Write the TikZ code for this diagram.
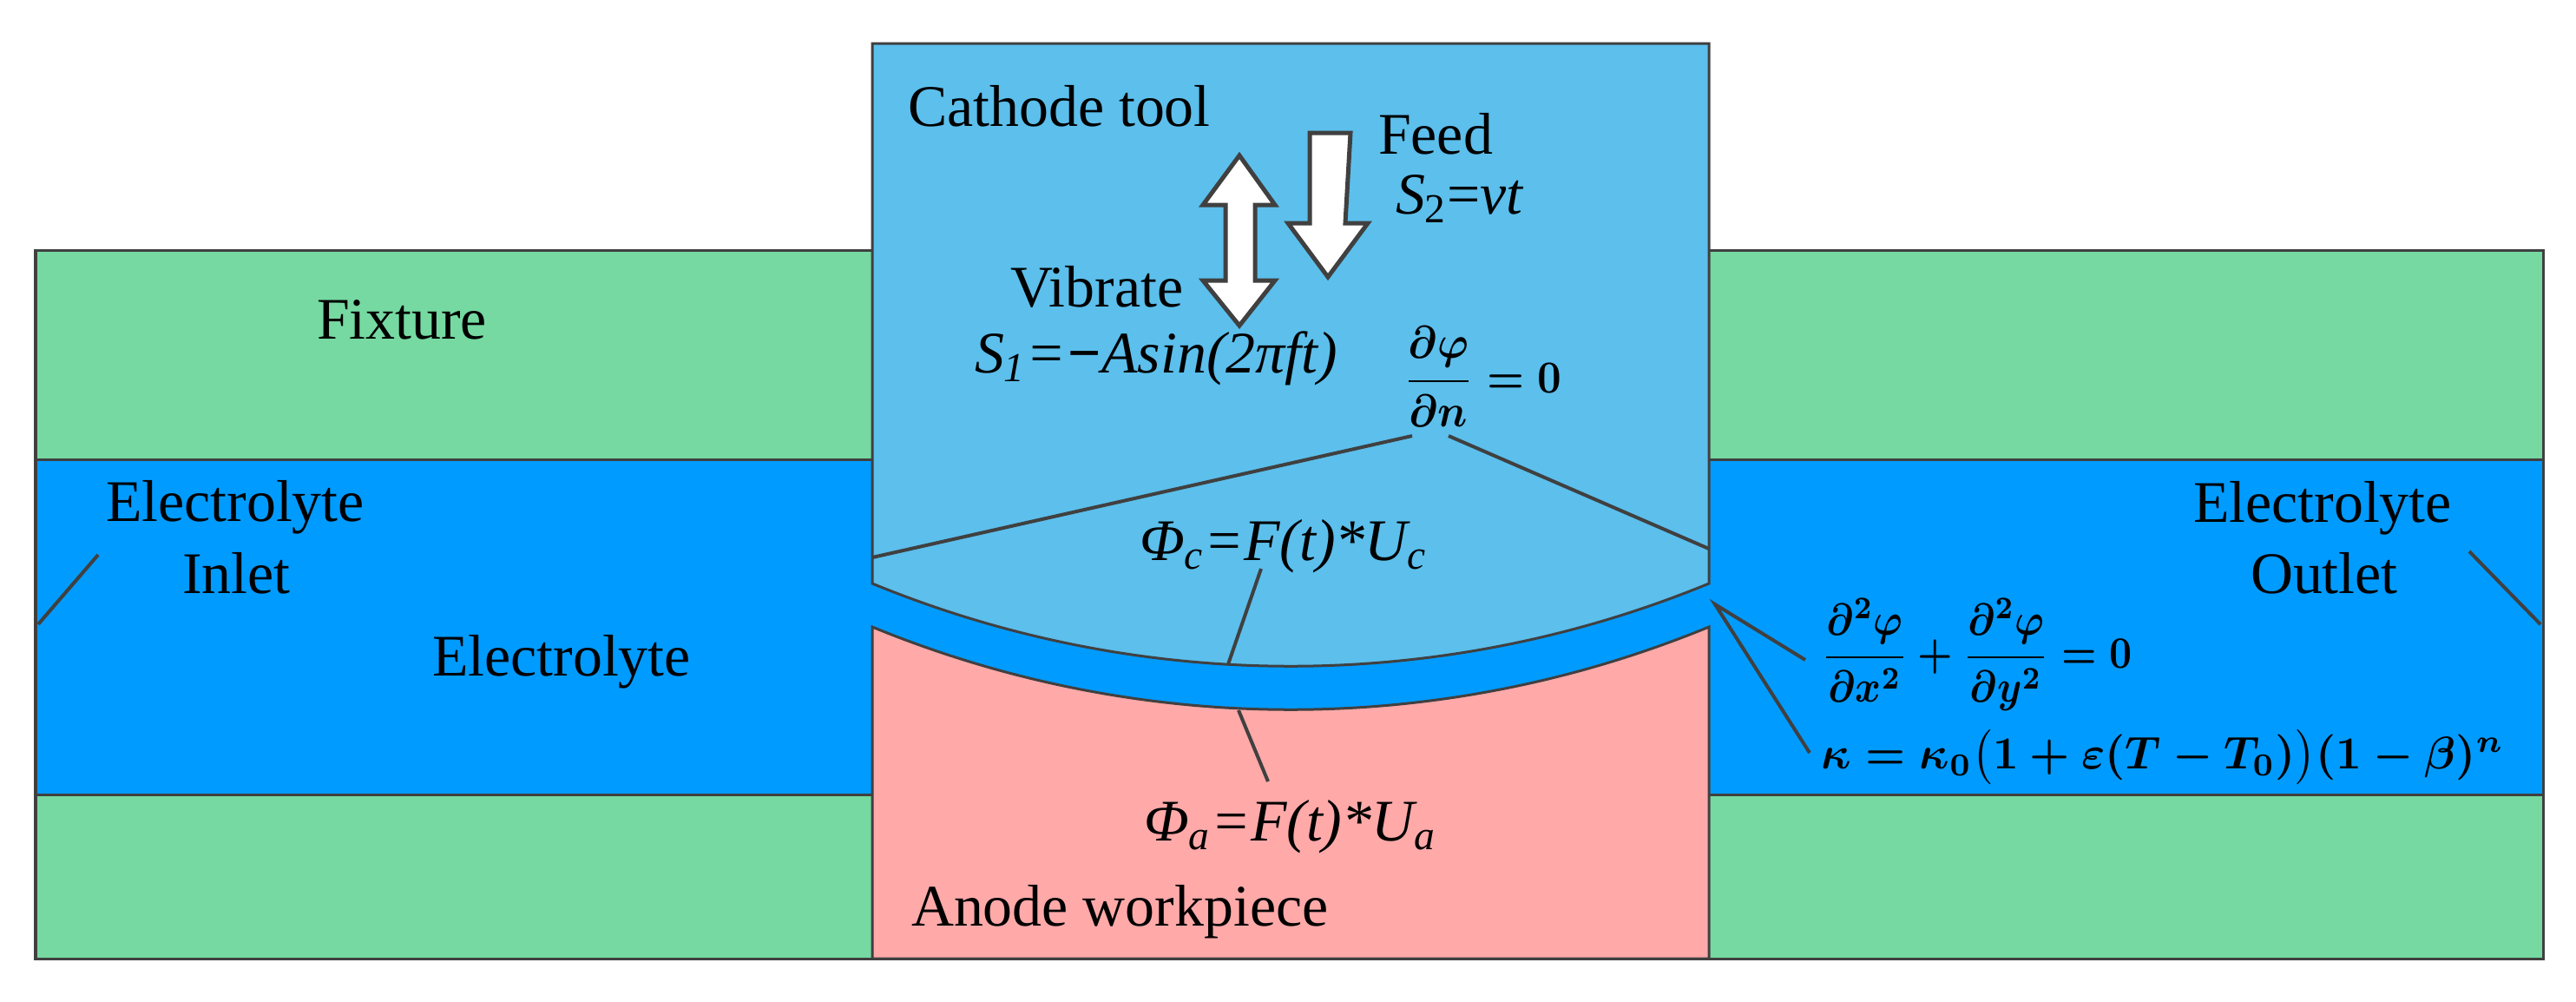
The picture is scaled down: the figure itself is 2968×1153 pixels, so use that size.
\documentclass[tikz,border=0pt]{standalone}
\usepackage{amsmath}
\usepackage{fontspec}
\setmainfont{Liberation Serif}
\definecolor{fixgreen}{HTML}{75D9A1}
\definecolor{elblue}{HTML}{009BFF}
\definecolor{cathblue}{HTML}{5CBFEC}
\definecolor{anodepink}{HTML}{FFA9A9}
\definecolor{edge}{HTML}{404040}
\tikzset{
  part/.style={draw=edge,line width=0.03cm,line join=miter},
  leader/.style={draw=edge,line width=0.04cm},
  lbl/.style={anchor=base west,inner sep=0pt,outer sep=0pt,font=\fontsize{19.3}{22}\selectfont},
  eqn/.style={anchor=west,inner sep=0pt,outer sep=0pt,font=\boldmath},
  motion/.style={draw=edge,fill=white,line width=0.05cm,line join=miter}
}
\begin{document}
\begin{tikzpicture}[x=0.01cm,y=-0.01cm]
\useasboundingbox (0,0) rectangle (2968,1153);
% regions
\fill[white] (0,0) rectangle (2968,1153);
\path[part,fill=fixgreen] (41,288) rectangle (2930,529);
\path[part,fill=fixgreen] (41,915) rectangle (2930,1104);
\path[part,fill=elblue] (41,529) rectangle (2930,915);
\path[part,fill=cathblue] (1005,50) -- (1969,50) -- (1969,672)
  .. controls (1660,799) and (1314,799) .. (1005,672) -- cycle;
\path[part,fill=anodepink] (1005,722) .. controls (1314,849) and (1660,849) .. (1969,722)
  -- (1969,1104) -- (1005,1104) -- cycle;
% motion arrows
\path[motion] (1428,179) -- (1469,236) -- (1446,236) -- (1446,323) -- (1469,323) -- (1428,375)
  -- (1386,323) -- (1412,323) -- (1412,236) -- (1386,236) -- cycle;
\path[motion] (1509,153) -- (1556,153) -- (1550,257) -- (1576,257) -- (1530,319) -- (1484,257) -- (1509,257) -- cycle;
% labels
\node[lbl] (cathode) at (1046,145) {Cathode tool};
\node[lbl] (feed) at (1588,177) {Feed};
\node[lbl] (s2) at (1608,246) {\textit{S}\textsubscript{2}=\textit{vt}};
\node[lbl] (vibrate) at (1164,353) {Vibrate};
\node[lbl] (s1) at (1123,429) {\textit{S\textsubscript{1}=\textbf{−}Asin(2πft)}};
\node[lbl] (fixture) at (365,390) {Fixture};
\node[lbl] (inleta) at (122,600) {Electrolyte};
\node[lbl] (inletb) at (210,683) {Inlet};
\node[lbl] (electrolyte) at (498,778) {Electrolyte};
\node[lbl] (outleta) at (2527,601) {Electrolyte};
\node[lbl] (outletb) at (2593,683) {Outlet};
\node[lbl] (phic) at (1313,645) {\textit{Φ\textsubscript{c}=F(t)*U\textsubscript{c}}};
\node[lbl] (phia) at (1318,968) {\textit{Φ\textsubscript{a}=F(t)*U\textsubscript{a}}};
\node[lbl] (anode) at (1050,1066) {Anode workpiece};
% equations
\node[eqn,xscale=1.37,yscale=1.5] (neumann) at (1617,434) {$\dfrac{\partial\varphi}{\partial n}=0$};
\node[eqn,xscale=1.29,yscale=1.47] (laplace) at (2099,754) {$\dfrac{\partial^2\varphi}{\partial x^2}+\dfrac{\partial^2\varphi}{\partial y^2}=0$};
\node[eqn,xscale=1.47,yscale=1.5] (kappa) at (2098,872) {$\kappa=\kappa_0\bigl(1+\varepsilon(T-T_0)\bigr)(1-\beta)^n$};
% leader end points
\coordinate (nl) at (1627,502);
\coordinate (nla) at (1005,642);
\coordinate (nr) at (1669,502);
\coordinate (nra) at (1969,632);
\coordinate (cl) at (1453,655);
\coordinate (cla) at (1415,765);
\coordinate (al) at (1461,900);
\coordinate (ala) at (1427,818);
\coordinate (apex) at (1976,696);
\coordinate (lap) at (2080,760);
\coordinate (kap) at (2085,867);
\coordinate (outa) at (2845,635);
\coordinate (outb) at (2927,719);
\coordinate (ina) at (113,639);
\coordinate (inb) at (44,719);
\draw[leader] (nl) -- (nla);
\draw[leader] (nr) -- (nra);
\draw[leader] (cl) -- (cla);
\draw[leader] (al) -- (ala);
\draw[leader] (lap) -- (apex) -- (kap);
\draw[leader] (outa) -- (outb);
\draw[leader] (ina) -- (inb);
\end{tikzpicture}
\end{document}
